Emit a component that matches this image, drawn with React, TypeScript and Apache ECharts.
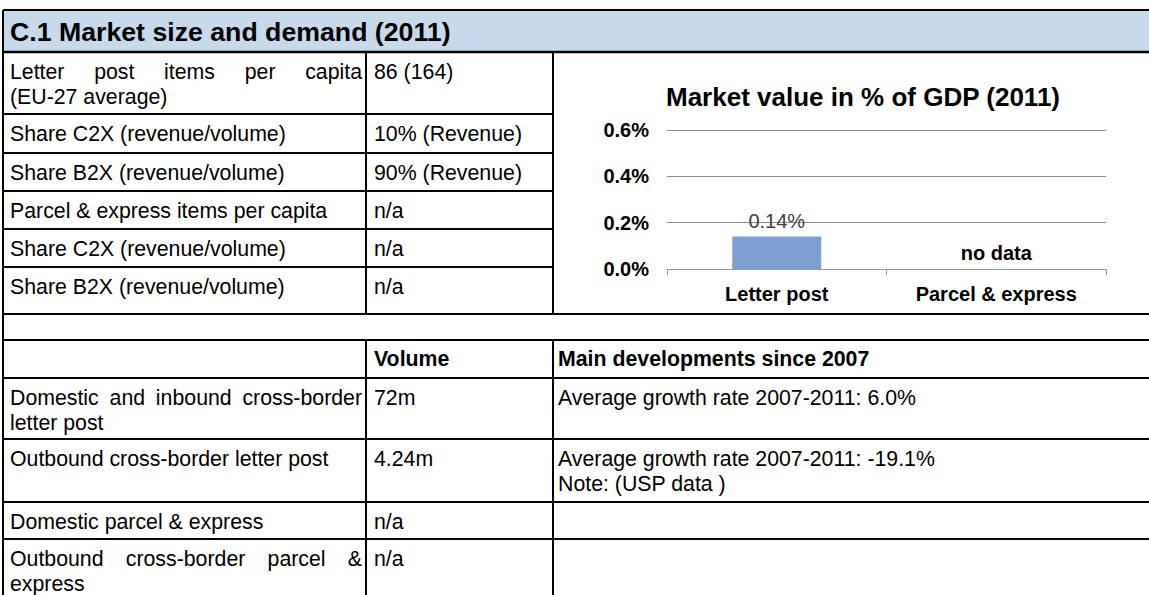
import React, { useEffect, useRef } from "react";
import * as echarts from "echarts";

const FONT = "'Liberation Sans', Arial, sans-serif";

// ---- data ----
const pageTitle = "C.1 Market size and demand (2011)";
const chartTitle = "Market value in % of GDP (2011)";
const categories = ["Letter post", "Parcel & express"];
const gdpShare: (number | null)[] = [0.14, null];
const yMin = 0;
const yMax = 0.6;
const yStep = 0.2;

const demandLabels: string[][] = [
  ["Letter post items per capita", "(EU-27 average)"],
  ["Share C2X (revenue/volume)"],
  ["Share B2X (revenue/volume)"],
  ["Parcel & express items per capita"],
  ["Share C2X (revenue/volume)"],
  ["Share B2X (revenue/volume)"],
];
const demandValues = ["86 (164)", "10% (Revenue)", "90% (Revenue)", "n/a", "n/a", "n/a"];

const volumeHeader = ["", "Volume", "Main developments since 2007"];
const volumeLabels: string[][] = [
  ["Domestic and inbound cross-border", "letter post"],
  ["Outbound cross-border letter post"],
  ["Domestic parcel & express"],
  ["Outbound cross-border parcel &", "express"],
];
const volumeValues = ["72m", "4.24m", "n/a", "n/a"];
const volumeNotes: string[][] = [
  ["Average growth rate 2007-2011: 6.0%"],
  ["Average growth rate 2007-2011: -19.1%", "Note: (USP data )"],
  [],
  [],
];

// ---- layout ----
const W = 1149;
const H = 595;
const X0 = 3;
const C1 = 366;
const C2 = 553;
const XR = 1152;
const TOP = 10;
const HEAD_B = 52;
const upperRows = [52, 114, 153, 191, 229, 267, 314];
const GAP_B = 340;
const lowerRows = [340, 378, 439, 502, 539, 600];
const BODY_SIZE = 21.3;
const LINE_GAP = 25;
const FIRST_OFF = 20;

const bodyFont = (bold = false) => `${bold ? "bold " : ""}${BODY_SIZE}px ${FONT}`;

let measureCtx: CanvasRenderingContext2D | null = null;
function measure(t: string, font: string) {
  if (!measureCtx) measureCtx = document.createElement("canvas").getContext("2d");
  if (!measureCtx) return t.length * 10;
  measureCtx.font = font;
  return measureCtx.measureText(t).width;
}

function txt(text: string, x: number, y: number, font: string, align = "left", fill = "#000") {
  return {
    type: "text",
    x,
    y,
    silent: true,
    style: { text, font, fill, textAlign: align, textVerticalAlign: "middle" },
  };
}

function justified(line: string, x0: number, x1: number, y: number, font: string) {
  const words = line.split(" ");
  if (words.length < 2) return [txt(line, x0, y, font)];
  const widths = words.map((w) => measure(w, font));
  const total = widths.reduce((a, b) => a + b, 0);
  const gap = (x1 - x0 - total) / (words.length - 1);
  const out: any[] = [];
  let x = x0;
  words.forEach((w, i) => {
    out.push(txt(w, x, y, font));
    x += widths[i] + gap;
  });
  return out;
}

function cellLines(lines: string[], x0: number, x1: number, top: number, font: string, justify: boolean) {
  const out: any[] = [];
  lines.forEach((l, i) => {
    const y = top + FIRST_OFF + i * LINE_GAP;
    if (justify && i < lines.length - 1) out.push(...justified(l, x0, x1, y, font));
    else out.push(txt(l, x0, y, font));
  });
  return out;
}

function hline(y: number, x1: number, x2: number, w = 2) {
  return { type: "line", silent: true, shape: { x1, y1: y, x2, y2: y }, style: { stroke: "#000", lineWidth: w } };
}
function vline(x: number, y1: number, y2: number, w = 2) {
  return { type: "line", silent: true, shape: { x1: x, y1, x2: x, y2 }, style: { stroke: "#000", lineWidth: w } };
}

function buildGraphics() {
  const g: any[] = [];
  g.push({ type: "rect", silent: true, shape: { x: X0, y: TOP, width: XR - X0, height: HEAD_B - TOP }, style: { fill: "#C9D9EC" } });
  g.push(txt(pageTitle, 10, (TOP + HEAD_B) / 2 + 1, `bold 26.7px ${FONT}`));
  // upper part
  demandLabels.forEach((lines, i) => {
    const top = upperRows[i];
    g.push(...cellLines(lines, 10, 362, top, bodyFont(), true));
    g.push(txt(demandValues[i], 374, top + FIRST_OFF, bodyFont()));
  });
  // lower header
  volumeHeader.forEach((h, i) => {
    if (!h) return;
    const x = i === 1 ? 374 : 558;
    g.push(txt(h, x, lowerRows[0] + 19, bodyFont(true)));
  });
  volumeLabels.forEach((lines, i) => {
    const top = lowerRows[i + 1];
    g.push(...cellLines(lines, 10, 362, top, bodyFont(), true));
    g.push(txt(volumeValues[i], 374, top + FIRST_OFF, bodyFont()));
    g.push(...cellLines(volumeNotes[i], 558, 1140, top, bodyFont(), false));
  });
  // lines
  g.push(hline(TOP, X0, XR, 2.2));
  g.push(hline(HEAD_B, X0, XR, 2.6));
  upperRows.slice(1, -1).forEach((y) => g.push(hline(y, X0, C2)));
  g.push(hline(upperRows[upperRows.length - 1], X0, XR));
  lowerRows.slice(0, -1).forEach((y) => g.push(hline(y, X0, XR)));
  g.push(vline(X0, TOP, H + 5));
  g.push(vline(C1, HEAD_B, upperRows[upperRows.length - 1]));
  g.push(vline(C2, HEAD_B, upperRows[upperRows.length - 1]));
  g.push(vline(C1, GAP_B, H + 5));
  g.push(vline(C2, GAP_B, H + 5));
  return g;
}

export default function App() {
  const ref = useRef<HTMLDivElement>(null);
  useEffect(() => {
    if (!ref.current) return;
    const chart = echarts.init(ref.current, undefined, { renderer: "svg" });
    const barData = gdpShare.map((v) =>
      v === null
        ? {
            value: 0,
            itemStyle: { color: "rgba(0,0,0,0)" },
            label: { formatter: "no data", fontWeight: "bold", color: "#000", distance: 6 },
          }
        : { value: v }
    );
    chart.setOption({
      animation: false,
      title: {
        text: chartTitle,
        left: 858,
        top: 92,
        textAlign: "center",
        textVerticalAlign: "middle",
        textStyle: { fontFamily: FONT, fontSize: 26, fontWeight: "bold", color: "#000" },
      },
      grid: { left: 667, right: W - 1106, top: 130, bottom: H - 269, containLabel: false },
      xAxis: {
        type: "category",
        data: categories,
        axisLine: { lineStyle: { color: "#9a9a9a", width: 1 } },
        axisTick: { show: true, length: 6, lineStyle: { color: "#9a9a9a" } },
        axisLabel: { fontFamily: FONT, fontSize: 20, fontWeight: "bold", color: "#000", margin: 15 },
      },
      yAxis: {
        type: "value",
        min: yMin,
        max: yMax,
        interval: yStep,
        axisLine: { show: false },
        axisTick: { show: false },
        splitLine: { lineStyle: { color: "#8c8c8c", width: 1 } },
        axisLabel: {
          fontFamily: FONT,
          fontSize: 20,
          fontWeight: "bold",
          color: "#000",
          margin: 18,
          formatter: (v: number) => v.toFixed(1) + "%",
        },
      },
      series: [
        {
          type: "bar",
          data: barData,
          barWidth: 89,
          itemStyle: { color: "#7B9FCF" },
          label: {
            show: true,
            position: "top",
            distance: 6,
            fontFamily: FONT,
            fontSize: 20,
            color: "#404040",
            formatter: (p: any) => (typeof p.value === "number" ? p.value.toFixed(2) + "%" : ""),
          },
        },
      ],
      graphic: buildGraphics(),
    });
    return () => chart.dispose();
  }, []);
  return (
    <div
      ref={ref}
      style={{ position: "fixed", left: 0, top: 0, width: W, height: H, background: "#fff" }}
    />
  );
}
